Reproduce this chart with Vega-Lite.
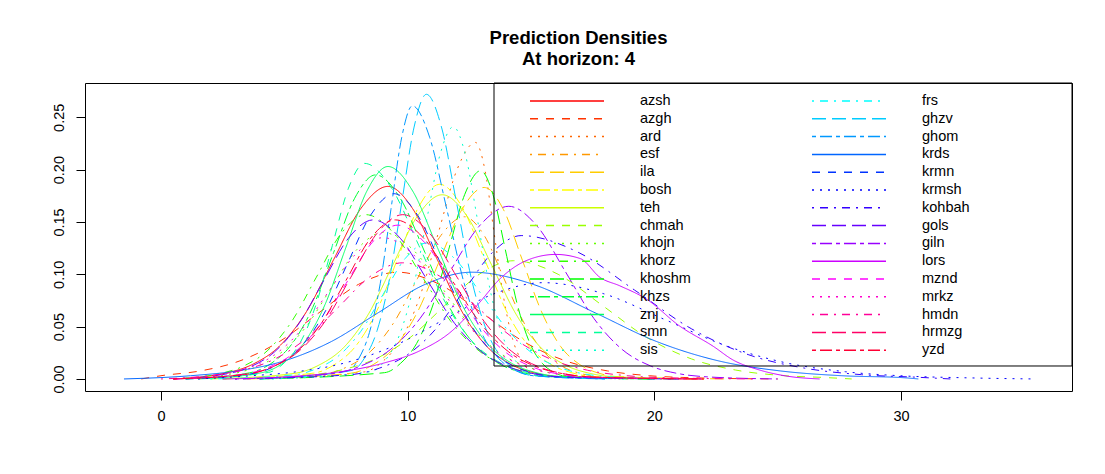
{
  "$schema": "https://vega.github.io/schema/vega-lite/v6.json",
  "width": 987,
  "height": 308,
  "autosize": "none",
  "padding": {"left": 85, "top": 83, "right": 33, "bottom": 83},
  "background": "white",
  "title": {"text": ["Prediction Densities", "At horizon: 4"], "fontSize": 18.5, "fontWeight": "bold", "font": "Liberation Sans", "color": "black", "lineHeight": 21, "anchor": "middle", "frame": "group", "offset": 14},
  "config": {"view": {"stroke": "black", "strokeWidth": 1}},
  "data": {"values": [
    {"s":"azsh","x":0.5,"y":0},{"s":"azsh","x":2.6,"y":0.0055},{"s":"azsh","x":3.7,"y":0.0138},{"s":"azsh","x":4.8,"y":0.0313},{"s":"azsh","x":5.9,"y":0.0644},{"s":"azsh","x":7.0,"y":0.1141},{"s":"azsh","x":8.1,"y":0.1628},{"s":"azsh","x":9.2,"y":0.184},{"s":"azsh","x":10.2,"y":0.1628},{"s":"azsh","x":11.2,"y":0.1141},{"s":"azsh","x":12.2,"y":0.0644},{"s":"azsh","x":13.2,"y":0.0313},{"s":"azsh","x":14.2,"y":0.0138},{"s":"azsh","x":15.2,"y":0.0055},{"s":"azsh","x":16.2,"y":0.0022},{"s":"azsh","x":22,"y":0},
    {"s":"azgh","x":-0.8,"y":0},{"s":"azgh","x":0.0,"y":0.0031},{"s":"azgh","x":1.6,"y":0.0077},{"s":"azgh","x":3.2,"y":0.0173},{"s":"azgh","x":4.8,"y":0.0357},{"s":"azgh","x":6.4,"y":0.0632},{"s":"azgh","x":8.0,"y":0.0903},{"s":"azgh","x":9.6,"y":0.102},{"s":"azgh","x":11.3,"y":0.0903},{"s":"azgh","x":13.0,"y":0.0632},{"s":"azgh","x":14.7,"y":0.0357},{"s":"azgh","x":16.4,"y":0.0173},{"s":"azgh","x":18.1,"y":0.0077},{"s":"azgh","x":19.8,"y":0.0031},{"s":"azgh","x":21.5,"y":0.0012},{"s":"azgh","x":25,"y":0},
    {"s":"ard","x":4,"y":0},{"s":"ard","x":8.25,"y":0.0068},{"s":"ard","x":9.0,"y":0.017},{"s":"ard","x":9.75,"y":0.0384},{"s":"ard","x":10.5,"y":0.0791},{"s":"ard","x":11.25,"y":0.1401},{"s":"ard","x":12.0,"y":0.2},{"s":"ard","x":12.75,"y":0.226},{"s":"ard","x":13.13,"y":0.2},{"s":"ard","x":13.5,"y":0.1401},{"s":"ard","x":13.88,"y":0.0791},{"s":"ard","x":14.25,"y":0.0384},{"s":"ard","x":14.63,"y":0.017},{"s":"ard","x":15.0,"y":0.0068},{"s":"ard","x":15.38,"y":0.0027},{"s":"ard","x":19,"y":0},
    {"s":"esf","x":3,"y":0},{"s":"esf","x":6.6,"y":0.0047},{"s":"esf","x":7.55,"y":0.0116},{"s":"esf","x":8.5,"y":0.0264},{"s":"esf","x":9.45,"y":0.0543},{"s":"esf","x":10.4,"y":0.0961},{"s":"esf","x":11.35,"y":0.1372},{"s":"esf","x":12.3,"y":0.155},{"s":"esf","x":13.1,"y":0.1372},{"s":"esf","x":13.9,"y":0.0961},{"s":"esf","x":14.7,"y":0.0543},{"s":"esf","x":15.5,"y":0.0264},{"s":"esf","x":16.3,"y":0.0116},{"s":"esf","x":17.1,"y":0.0047},{"s":"esf","x":17.9,"y":0.0019},{"s":"esf","x":22,"y":0},
    {"s":"ila","x":3.5,"y":0},{"s":"ila","x":7.7,"y":0.0055},{"s":"ila","x":8.6,"y":0.0137},{"s":"ila","x":9.5,"y":0.0311},{"s":"ila","x":10.4,"y":0.0641},{"s":"ila","x":11.3,"y":0.1135},{"s":"ila","x":12.2,"y":0.162},{"s":"ila","x":13.1,"y":0.183},{"s":"ila","x":13.88,"y":0.162},{"s":"ila","x":14.65,"y":0.1135},{"s":"ila","x":15.43,"y":0.0641},{"s":"ila","x":16.2,"y":0.0311},{"s":"ila","x":16.98,"y":0.0137},{"s":"ila","x":17.75,"y":0.0055},{"s":"ila","x":18.53,"y":0.0022},{"s":"ila","x":23,"y":0},
    {"s":"bosh","x":2.5,"y":0},{"s":"bosh","x":6.2,"y":0.0056},{"s":"bosh","x":7.05,"y":0.014},{"s":"bosh","x":7.9,"y":0.0316},{"s":"bosh","x":8.75,"y":0.0651},{"s":"bosh","x":9.6,"y":0.1153},{"s":"bosh","x":10.45,"y":0.1646},{"s":"bosh","x":11.3,"y":0.186},{"s":"bosh","x":12.2,"y":0.1646},{"s":"bosh","x":13.1,"y":0.1153},{"s":"bosh","x":14.0,"y":0.0651},{"s":"bosh","x":14.9,"y":0.0316},{"s":"bosh","x":15.8,"y":0.014},{"s":"bosh","x":16.7,"y":0.0056},{"s":"bosh","x":17.6,"y":0.0022},{"s":"bosh","x":21,"y":0},
    {"s":"teh","x":2,"y":0},{"s":"teh","x":5.4,"y":0.0053},{"s":"teh","x":6.4,"y":0.0132},{"s":"teh","x":7.4,"y":0.0299},{"s":"teh","x":8.4,"y":0.0616},{"s":"teh","x":9.4,"y":0.1091},{"s":"teh","x":10.4,"y":0.1558},{"s":"teh","x":11.4,"y":0.176},{"s":"teh","x":12.4,"y":0.1558},{"s":"teh","x":13.4,"y":0.1091},{"s":"teh","x":14.4,"y":0.0616},{"s":"teh","x":15.4,"y":0.0299},{"s":"teh","x":16.4,"y":0.0132},{"s":"teh","x":17.4,"y":0.0053},{"s":"teh","x":18.4,"y":0.0021},{"s":"teh","x":22,"y":0},
    {"s":"chmah","x":2.5,"y":0},{"s":"chmah","x":5.9,"y":0.0034},{"s":"chmah","x":7.3,"y":0.0085},{"s":"chmah","x":8.7,"y":0.0192},{"s":"chmah","x":10.1,"y":0.0396},{"s":"chmah","x":11.5,"y":0.0701},{"s":"chmah","x":12.9,"y":0.1},{"s":"chmah","x":14.3,"y":0.113},{"s":"chmah","x":16.1,"y":0.1},{"s":"chmah","x":17.9,"y":0.0701},{"s":"chmah","x":19.7,"y":0.0396},{"s":"chmah","x":21.5,"y":0.0192},{"s":"chmah","x":23.3,"y":0.0085},{"s":"chmah","x":25.1,"y":0.0034},{"s":"chmah","x":26.9,"y":0.0014},{"s":"chmah","x":28,"y":0},
    {"s":"khojn","x":0.5,"y":0},{"s":"khojn","x":2.7,"y":0.0042},{"s":"khojn","x":3.75,"y":0.0105},{"s":"khojn","x":4.8,"y":0.0238},{"s":"khojn","x":5.85,"y":0.049},{"s":"khojn","x":6.9,"y":0.0868},{"s":"khojn","x":7.95,"y":0.1239},{"s":"khojn","x":9.0,"y":0.14},{"s":"khojn","x":10.2,"y":0.1239},{"s":"khojn","x":11.4,"y":0.0868},{"s":"khojn","x":12.6,"y":0.049},{"s":"khojn","x":13.8,"y":0.0238},{"s":"khojn","x":15.0,"y":0.0105},{"s":"khojn","x":16.2,"y":0.0042},{"s":"khojn","x":17.4,"y":0.0017},{"s":"khojn","x":22,"y":0},
    {"s":"khorz","x":0.5,"y":0},{"s":"khorz","x":2.3,"y":0.0047},{"s":"khorz","x":3.3,"y":0.0118},{"s":"khorz","x":4.3,"y":0.0267},{"s":"khorz","x":5.3,"y":0.055},{"s":"khorz","x":6.3,"y":0.0973},{"s":"khorz","x":7.3,"y":0.1389},{"s":"khorz","x":8.3,"y":0.157},{"s":"khorz","x":9.45,"y":0.1389},{"s":"khorz","x":10.6,"y":0.0973},{"s":"khorz","x":11.75,"y":0.055},{"s":"khorz","x":12.9,"y":0.0267},{"s":"khorz","x":14.05,"y":0.0118},{"s":"khorz","x":15.2,"y":0.0047},{"s":"khorz","x":16.35,"y":0.0019},{"s":"khorz","x":21,"y":0},
    {"s":"khoshm","x":4,"y":0},{"s":"khoshm","x":9.06,"y":0.006},{"s":"khoshm","x":9.71,"y":0.0149},{"s":"khoshm","x":10.36,"y":0.0338},{"s":"khoshm","x":11.01,"y":0.0697},{"s":"khoshm","x":11.66,"y":0.1234},{"s":"khoshm","x":12.31,"y":0.1761},{"s":"khoshm","x":12.96,"y":0.199},{"s":"khoshm","x":13.46,"y":0.1761},{"s":"khoshm","x":13.96,"y":0.1234},{"s":"khoshm","x":14.46,"y":0.0697},{"s":"khoshm","x":14.96,"y":0.0338},{"s":"khoshm","x":15.46,"y":0.0149},{"s":"khoshm","x":15.96,"y":0.006},{"s":"khoshm","x":16.46,"y":0.0024},{"s":"khoshm","x":20,"y":0},
    {"s":"khzs","x":1,"y":0},{"s":"khzs","x":3.6,"y":0.0059},{"s":"khzs","x":4.45,"y":0.0146},{"s":"khzs","x":5.3,"y":0.0332},{"s":"khzs","x":6.15,"y":0.0683},{"s":"khzs","x":7.0,"y":0.1209},{"s":"khzs","x":7.85,"y":0.1726},{"s":"khzs","x":8.7,"y":0.195},{"s":"khzs","x":9.7,"y":0.1726},{"s":"khzs","x":10.7,"y":0.1209},{"s":"khzs","x":11.7,"y":0.0683},{"s":"khzs","x":12.7,"y":0.0332},{"s":"khzs","x":13.7,"y":0.0146},{"s":"khzs","x":14.7,"y":0.0059},{"s":"khzs","x":15.7,"y":0.0023},{"s":"khzs","x":20,"y":0},
    {"s":"znj","x":1.5,"y":0},{"s":"znj","x":4.1,"y":0.0061},{"s":"znj","x":4.95,"y":0.0152},{"s":"znj","x":5.8,"y":0.0345},{"s":"znj","x":6.65,"y":0.0711},{"s":"znj","x":7.5,"y":0.1259},{"s":"znj","x":8.35,"y":0.1797},{"s":"znj","x":9.2,"y":0.203},{"s":"znj","x":10.2,"y":0.1797},{"s":"znj","x":11.2,"y":0.1259},{"s":"znj","x":12.2,"y":0.0711},{"s":"znj","x":13.2,"y":0.0345},{"s":"znj","x":14.2,"y":0.0152},{"s":"znj","x":15.2,"y":0.0061},{"s":"znj","x":16.2,"y":0.0024},{"s":"znj","x":20,"y":0},
    {"s":"smn","x":1,"y":0},{"s":"smn","x":4.35,"y":0.0062},{"s":"smn","x":5.0,"y":0.0155},{"s":"smn","x":5.65,"y":0.035},{"s":"smn","x":6.3,"y":0.0721},{"s":"smn","x":6.95,"y":0.1277},{"s":"smn","x":7.6,"y":0.1823},{"s":"smn","x":8.25,"y":0.206},{"s":"smn","x":9.35,"y":0.1823},{"s":"smn","x":10.45,"y":0.1277},{"s":"smn","x":11.55,"y":0.0721},{"s":"smn","x":12.65,"y":0.035},{"s":"smn","x":13.75,"y":0.0155},{"s":"smn","x":14.85,"y":0.0062},{"s":"smn","x":15.95,"y":0.0025},{"s":"smn","x":19,"y":0},
    {"s":"sis","x":4.5,"y":0},{"s":"sis","x":8.55,"y":0.0072},{"s":"sis","x":9.1,"y":0.0181},{"s":"sis","x":9.65,"y":0.041},{"s":"sis","x":10.2,"y":0.0844},{"s":"sis","x":10.75,"y":0.1494},{"s":"sis","x":11.3,"y":0.2133},{"s":"sis","x":11.85,"y":0.241},{"s":"sis","x":12.35,"y":0.2133},{"s":"sis","x":12.85,"y":0.1494},{"s":"sis","x":13.35,"y":0.0844},{"s":"sis","x":13.85,"y":0.041},{"s":"sis","x":14.35,"y":0.0181},{"s":"sis","x":14.85,"y":0.0072},{"s":"sis","x":15.35,"y":0.0029},{"s":"sis","x":19,"y":0},
    {"s":"frs","x":2,"y":0},{"s":"frs","x":5.4,"y":0.0039},{"s":"frs","x":6.3,"y":0.0098},{"s":"frs","x":7.2,"y":0.0221},{"s":"frs","x":8.1,"y":0.0455},{"s":"frs","x":9.0,"y":0.0806},{"s":"frs","x":9.9,"y":0.1151},{"s":"frs","x":10.8,"y":0.13},{"s":"frs","x":11.9,"y":0.1151},{"s":"frs","x":13.0,"y":0.0806},{"s":"frs","x":14.1,"y":0.0455},{"s":"frs","x":15.2,"y":0.0221},{"s":"frs","x":16.3,"y":0.0098},{"s":"frs","x":17.4,"y":0.0039},{"s":"frs","x":18.5,"y":0.0016},{"s":"frs","x":21,"y":0},
    {"s":"ghzv","x":4,"y":0},{"s":"ghzv","x":7.76,"y":0.0082},{"s":"ghzv","x":8.26,"y":0.0204},{"s":"ghzv","x":8.76,"y":0.0462},{"s":"ghzv","x":9.26,"y":0.0952},{"s":"ghzv","x":9.76,"y":0.1686},{"s":"ghzv","x":10.26,"y":0.2407},{"s":"ghzv","x":10.76,"y":0.272},{"s":"ghzv","x":11.37,"y":0.2407},{"s":"ghzv","x":11.98,"y":0.1686},{"s":"ghzv","x":12.59,"y":0.0952},{"s":"ghzv","x":13.2,"y":0.0462},{"s":"ghzv","x":13.81,"y":0.0204},{"s":"ghzv","x":14.42,"y":0.0082},{"s":"ghzv","x":15.03,"y":0.0033},{"s":"ghzv","x":18,"y":0},
    {"s":"ghom","x":4,"y":0},{"s":"ghom","x":7.58,"y":0.0078},{"s":"ghom","x":8.02,"y":0.0196},{"s":"ghom","x":8.45,"y":0.0444},{"s":"ghom","x":8.89,"y":0.0914},{"s":"ghom","x":9.32,"y":0.1618},{"s":"ghom","x":9.76,"y":0.231},{"s":"ghom","x":10.19,"y":0.261},{"s":"ghom","x":10.89,"y":0.231},{"s":"ghom","x":11.59,"y":0.1618},{"s":"ghom","x":12.29,"y":0.0914},{"s":"ghom","x":12.99,"y":0.0444},{"s":"ghom","x":13.69,"y":0.0196},{"s":"ghom","x":14.39,"y":0.0078},{"s":"ghom","x":15.09,"y":0.0031},{"s":"ghom","x":18,"y":0},
    {"s":"krds","x":-1.5,"y":0},{"s":"krds","x":1.2,"y":0.0031},{"s":"krds","x":3.1,"y":0.0077},{"s":"krds","x":5.0,"y":0.0173},{"s":"krds","x":6.9,"y":0.0357},{"s":"krds","x":8.8,"y":0.0632},{"s":"krds","x":10.7,"y":0.0903},{"s":"krds","x":12.6,"y":0.102},{"s":"krds","x":15.1,"y":0.0903},{"s":"krds","x":17.6,"y":0.0632},{"s":"krds","x":20.1,"y":0.0357},{"s":"krds","x":22.6,"y":0.0173},{"s":"krds","x":25.1,"y":0.0077},{"s":"krds","x":27.6,"y":0.0031},{"s":"krds","x":30.1,"y":0.0012},{"s":"krds","x":30.7,"y":0},
    {"s":"krmn","x":1,"y":0},{"s":"krmn","x":3.75,"y":0.0053},{"s":"krmn","x":4.7,"y":0.0133},{"s":"krmn","x":5.65,"y":0.0301},{"s":"krmn","x":6.6,"y":0.062},{"s":"krmn","x":7.55,"y":0.1097},{"s":"krmn","x":8.5,"y":0.1566},{"s":"krmn","x":9.45,"y":0.177},{"s":"krmn","x":10.4,"y":0.1566},{"s":"krmn","x":11.35,"y":0.1097},{"s":"krmn","x":12.3,"y":0.062},{"s":"krmn","x":13.25,"y":0.0301},{"s":"krmn","x":14.2,"y":0.0133},{"s":"krmn","x":15.15,"y":0.0053},{"s":"krmn","x":16.1,"y":0.0021},{"s":"krmn","x":21,"y":0},
    {"s":"krmsh","x":1.5,"y":0},{"s":"krmsh","x":3.5,"y":0.0028},{"s":"krmsh","x":5.5,"y":0.0069},{"s":"krmsh","x":7.5,"y":0.0156},{"s":"krmsh","x":9.5,"y":0.0322},{"s":"krmsh","x":11.5,"y":0.057},{"s":"krmsh","x":13.5,"y":0.0814},{"s":"krmsh","x":15.5,"y":0.092},{"s":"krmsh","x":17.95,"y":0.0814},{"s":"krmsh","x":20.4,"y":0.057},{"s":"krmsh","x":22.85,"y":0.0322},{"s":"krmsh","x":25.3,"y":0.0156},{"s":"krmsh","x":27.75,"y":0.0069},{"s":"krmsh","x":30.2,"y":0.0028},{"s":"krmsh","x":32.65,"y":0.0011},{"s":"krmsh","x":35.4,"y":0},
    {"s":"kohbah","x":3,"y":0},{"s":"kohbah","x":7.7,"y":0.0041},{"s":"kohbah","x":8.85,"y":0.0103},{"s":"kohbah","x":10.0,"y":0.0233},{"s":"kohbah","x":11.15,"y":0.048},{"s":"kohbah","x":12.3,"y":0.0849},{"s":"kohbah","x":13.45,"y":0.1212},{"s":"kohbah","x":14.6,"y":0.137},{"s":"kohbah","x":16.9,"y":0.1212},{"s":"kohbah","x":19.2,"y":0.0849},{"s":"kohbah","x":21.5,"y":0.048},{"s":"kohbah","x":23.8,"y":0.0233},{"s":"kohbah","x":26.1,"y":0.0103},{"s":"kohbah","x":28.4,"y":0.0041},{"s":"kohbah","x":30.7,"y":0.0016},{"s":"kohbah","x":32,"y":0},
    {"s":"gols","x":0.5,"y":0},{"s":"gols","x":2.6,"y":0.0046},{"s":"gols","x":3.6,"y":0.0114},{"s":"gols","x":4.6,"y":0.0258},{"s":"gols","x":5.6,"y":0.0532},{"s":"gols","x":6.6,"y":0.0942},{"s":"gols","x":7.6,"y":0.1345},{"s":"gols","x":8.6,"y":0.152},{"s":"gols","x":9.7,"y":0.1345},{"s":"gols","x":10.8,"y":0.0942},{"s":"gols","x":11.9,"y":0.0532},{"s":"gols","x":13.0,"y":0.0258},{"s":"gols","x":14.1,"y":0.0114},{"s":"gols","x":15.2,"y":0.0046},{"s":"gols","x":16.3,"y":0.0018},{"s":"gols","x":21,"y":0},
    {"s":"giln","x":3,"y":0},{"s":"giln","x":6.9,"y":0.005},{"s":"giln","x":8.1,"y":0.0124},{"s":"giln","x":9.3,"y":0.0281},{"s":"giln","x":10.5,"y":0.0578},{"s":"giln","x":11.7,"y":0.1023},{"s":"giln","x":12.9,"y":0.146},{"s":"giln","x":14.1,"y":0.165},{"s":"giln","x":15.25,"y":0.146},{"s":"giln","x":16.4,"y":0.1023},{"s":"giln","x":17.55,"y":0.0578},{"s":"giln","x":18.7,"y":0.0281},{"s":"giln","x":19.85,"y":0.0124},{"s":"giln","x":21.0,"y":0.005},{"s":"giln","x":22.15,"y":0.002},{"s":"giln","x":25,"y":0},
    {"s":"lors","x":2.5,"y":0},{"s":"lors","x":5,"y":0.002},{"s":"lors","x":7,"y":0.006},{"s":"lors","x":9,"y":0.015},{"s":"lors","x":10.5,"y":0.027},{"s":"lors","x":11.7,"y":0.044},{"s":"lors","x":12.8,"y":0.07},{"s":"lors","x":13.8,"y":0.097},{"s":"lors","x":14.8,"y":0.113},{"s":"lors","x":16.0,"y":0.119},{"s":"lors","x":17.0,"y":0.115},{"s":"lors","x":17.8,"y":0.097},{"s":"lors","x":18.6,"y":0.089},{"s":"lors","x":19.7,"y":0.076},{"s":"lors","x":21.0,"y":0.051},{"s":"lors","x":22.4,"y":0.031},{"s":"lors","x":23.2,"y":0.018},{"s":"lors","x":24.2,"y":0.009},{"s":"lors","x":25.3,"y":0.003},{"s":"lors","x":26.7,"y":0},
    {"s":"mznd","x":0.5,"y":0},{"s":"mznd","x":3.3,"y":0.0044},{"s":"mznd","x":4.35,"y":0.011},{"s":"mznd","x":5.4,"y":0.025},{"s":"mznd","x":6.45,"y":0.0515},{"s":"mznd","x":7.5,"y":0.0911},{"s":"mznd","x":8.55,"y":0.1301},{"s":"mznd","x":9.6,"y":0.147},{"s":"mznd","x":10.7,"y":0.1301},{"s":"mznd","x":11.8,"y":0.0911},{"s":"mznd","x":12.9,"y":0.0515},{"s":"mznd","x":14.0,"y":0.025},{"s":"mznd","x":15.1,"y":0.011},{"s":"mznd","x":16.2,"y":0.0044},{"s":"mznd","x":17.3,"y":0.0018},{"s":"mznd","x":22,"y":0},
    {"s":"mrkz","x":0.5,"y":0},{"s":"mrkz","x":2.4,"y":0.0041},{"s":"mrkz","x":3.5,"y":0.0101},{"s":"mrkz","x":4.6,"y":0.023},{"s":"mrkz","x":5.7,"y":0.0473},{"s":"mrkz","x":6.8,"y":0.0837},{"s":"mrkz","x":7.9,"y":0.1195},{"s":"mrkz","x":9.0,"y":0.135},{"s":"mrkz","x":10.2,"y":0.1195},{"s":"mrkz","x":11.4,"y":0.0837},{"s":"mrkz","x":12.6,"y":0.0473},{"s":"mrkz","x":13.8,"y":0.023},{"s":"mrkz","x":15.0,"y":0.0101},{"s":"mrkz","x":16.2,"y":0.0041},{"s":"mrkz","x":17.4,"y":0.0016},{"s":"mrkz","x":22,"y":0},
    {"s":"hmdn","x":0,"y":0},{"s":"hmdn","x":2.0,"y":0.0033},{"s":"hmdn","x":3.3,"y":0.0083},{"s":"hmdn","x":4.6,"y":0.0189},{"s":"hmdn","x":5.9,"y":0.0389},{"s":"hmdn","x":7.2,"y":0.0688},{"s":"hmdn","x":8.5,"y":0.0982},{"s":"hmdn","x":9.8,"y":0.111},{"s":"hmdn","x":11.3,"y":0.0982},{"s":"hmdn","x":12.8,"y":0.0688},{"s":"hmdn","x":14.3,"y":0.0389},{"s":"hmdn","x":15.8,"y":0.0189},{"s":"hmdn","x":17.3,"y":0.0083},{"s":"hmdn","x":18.8,"y":0.0033},{"s":"hmdn","x":20.3,"y":0.0013},{"s":"hmdn","x":24,"y":0},
    {"s":"hrmzg","x":0.5,"y":0},{"s":"hrmzg","x":3.5,"y":0.0047},{"s":"hrmzg","x":4.55,"y":0.0118},{"s":"hrmzg","x":5.6,"y":0.0267},{"s":"hrmzg","x":6.65,"y":0.055},{"s":"hrmzg","x":7.7,"y":0.0973},{"s":"hrmzg","x":8.75,"y":0.1389},{"s":"hrmzg","x":9.8,"y":0.157},{"s":"hrmzg","x":10.9,"y":0.1389},{"s":"hrmzg","x":12.0,"y":0.0973},{"s":"hrmzg","x":13.1,"y":0.055},{"s":"hrmzg","x":14.2,"y":0.0267},{"s":"hrmzg","x":15.3,"y":0.0118},{"s":"hrmzg","x":16.4,"y":0.0047},{"s":"hrmzg","x":17.5,"y":0.0019},{"s":"hrmzg","x":22,"y":0},
    {"s":"yzd","x":0.5,"y":0},{"s":"yzd","x":3.5,"y":0.0046},{"s":"yzd","x":4.5,"y":0.0114},{"s":"yzd","x":5.5,"y":0.0258},{"s":"yzd","x":6.5,"y":0.0532},{"s":"yzd","x":7.5,"y":0.0942},{"s":"yzd","x":8.5,"y":0.1345},{"s":"yzd","x":9.5,"y":0.152},{"s":"yzd","x":10.65,"y":0.1345},{"s":"yzd","x":11.8,"y":0.0942},{"s":"yzd","x":12.95,"y":0.0532},{"s":"yzd","x":14.1,"y":0.0258},{"s":"yzd","x":15.25,"y":0.0114},{"s":"yzd","x":16.4,"y":0.0046},{"s":"yzd","x":17.55,"y":0.0018},{"s":"yzd","x":22,"y":0}
  ]},
  "layer": [
    {
      "mark": {"type": "line", "strokeWidth": 1, "interpolate": "monotone", "clip": true},
      "encoding": {
        "x": {"field": "x", "type": "quantitative", "scale": {"domain": [-3.08, 36.93], "nice": false, "zero": false},
              "axis": {"values": [0, 10, 20, 30], "format": "d", "title": null, "domain": false, "grid": false, "tickSize": 9, "tickColor": "black", "labelFontSize": 14.5, "labelFont": "Liberation Sans", "labelColor": "black", "labelPadding": 9}},
        "y": {"field": "y", "type": "quantitative", "scale": {"domain": [-0.0115, 0.2828], "nice": false, "zero": false},
              "axis": {"values": [0, 0.05, 0.1, 0.15, 0.2, 0.25], "format": ".2f", "title": null, "domain": false, "grid": false, "tickSize": 9, "tickColor": "black", "labelAngle": 270, "labelAlign": "center", "labelBaseline": "bottom", "labelPadding": 10, "labelFontSize": 14.5, "labelFont": "Liberation Sans", "labelColor": "black"}},
        "color": {"field": "s", "type": "nominal",
          "scale": {"domain": ["azsh","azgh","ard","esf","ila","bosh","teh","chmah","khojn","khorz","khoshm","khzs","znj","smn","sis","frs","ghzv","ghom","krds","krmn","krmsh","kohbah","gols","giln","lors","mznd","mrkz","hmdn","hrmzg","yzd"],
                    "range": ["#FF0000","#FF3300","#FF6600","#FF9900","#FFCC00","#FFFF00","#CCFF00","#99FF00","#66FF00","#33FF00","#00FF00","#00FF33","#00FF66","#00FF99","#00FFCC","#00FFFF","#00CCFF","#0099FF","#0066FF","#0033FF","#0000FF","#3300FF","#6600FF","#9900FF","#CC00FF","#FF00FF","#FF00CC","#FF0099","#FF0066","#FF0033"]},
          "legend": {"orient": "none", "legendX": 444, "legendY": 10.5, "columns": 2, "title": null, "symbolType": "stroke", "symbolSize": 5476, "symbolStrokeWidth": 1.5, "clipHeight": 15, "rowPadding": 1.8, "columnPadding": 120, "labelOffset": 35, "labelFontSize": 14.5, "labelFont": "Liberation Sans", "labelColor": "black", "padding": 0}},
        "strokeDash": {"field": "s", "type": "nominal",
          "scale": {"domain": ["azsh","azgh","ard","esf","ila","bosh","teh","chmah","khojn","khorz","khoshm","khzs","znj","smn","sis","frs","ghzv","ghom","krds","krmn","krmsh","kohbah","gols","giln","lors","mznd","mrkz","hmdn","hrmzg","yzd"],
                    "range": [[1,0],[8,8],[2,6],[2,6,8,6],[14,6],[4,4,12,4],[1,0],[8,8],[2,6],[2,6,8,6],[14,6],[4,4,12,4],[1,0],[8,8],[2,6],[2,6,8,6],[14,6],[4,4,12,4],[1,0],[8,8],[2,6],[2,6,8,6],[14,6],[4,4,12,4],[1,0],[8,8],[2,6],[2,6,8,6],[14,6],[4,4,12,4]]},
          "legend": {"orient": "none", "legendX": 444, "legendY": 10.5, "columns": 2, "title": null, "symbolType": "stroke", "symbolSize": 5476, "symbolStrokeWidth": 1.5, "clipHeight": 15, "rowPadding": 1.8, "columnPadding": 120, "labelOffset": 35, "labelFontSize": 14.5, "labelFont": "Liberation Sans", "labelColor": "black", "padding": 0}}
      }
    },
    {
      "data": {"values": [{}]},
      "mark": {"type": "rect", "fill": null, "fillOpacity": 0, "stroke": "black", "strokeWidth": 1},
      "encoding": {
        "x": {"datum": 13.5, "type": "quantitative"},
        "x2": {"datum": 36.93},
        "y": {"datum": 0.0124, "type": "quantitative"},
        "y2": {"datum": 0.2828}
      }
    }
  ]
}
